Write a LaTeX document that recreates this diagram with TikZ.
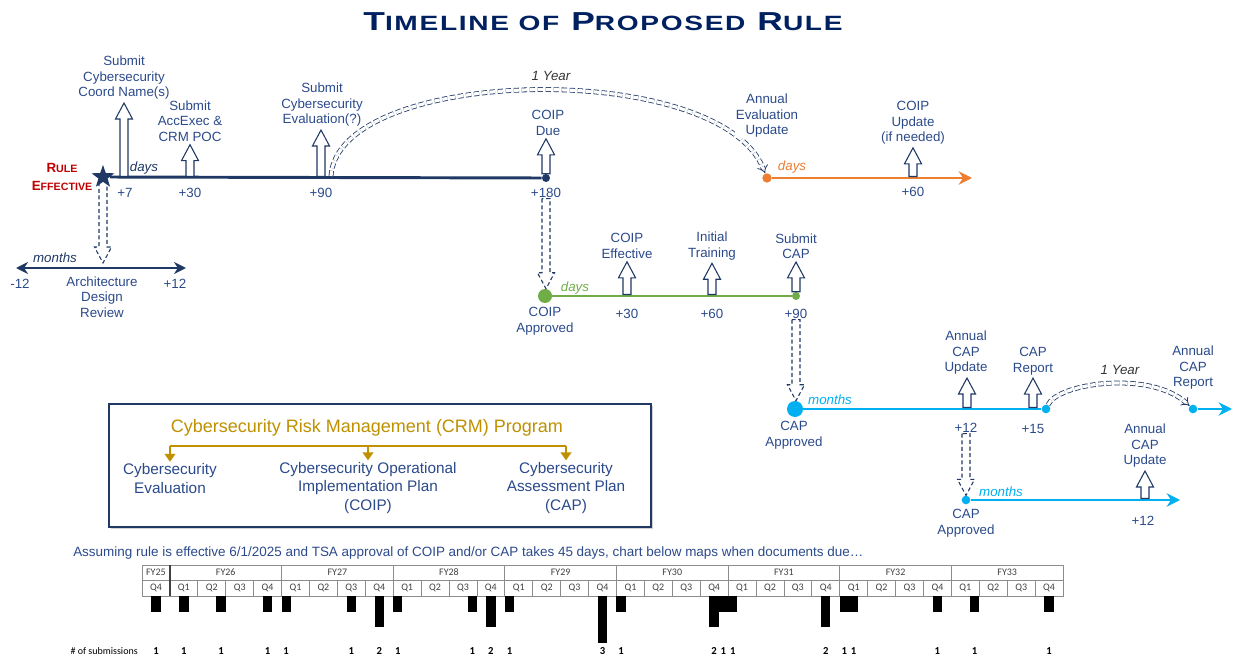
\documentclass[tikz,border=0pt]{standalone}
\usepackage{graphicx}
\usepackage{fontspec}
\setmainfont{Liberation Sans}
\newfontfamily\titlefont[LetterSpace=6]{Liberation Sans}
\newfontfamily\chartfont{Carlito}
\usetikzlibrary{arrows.meta,shapes.geometric,shadows,calc}

\definecolor{navy}{HTML}{1F3864}
\definecolor{titlenavy}{HTML}{002060}
\definecolor{labelnavy}{HTML}{2B4A8B}
\definecolor{rulered}{HTML}{C00000}
\definecolor{orng}{HTML}{ED7D31}
\definecolor{grn}{HTML}{70AD47}
\definecolor{cyn}{HTML}{00B0F0}
\definecolor{gold}{HTML}{BF9000}
\definecolor{gridgray}{HTML}{8C8C8C}
\definecolor{chartgray}{HTML}{404040}

\newcommand\titlecap[1]{{\fontsize{15.5}{18}\selectfont #1}}
\newcommand\rulecap[1]{{\fontsize{8}{9}\selectfont #1}}

\tikzset{
  lbl/.style={font=\fontsize{10}{11.6}\selectfont, text=labelnavy, align=center, inner sep=0.5pt, outer sep=2pt},
  val/.style={font=\fontsize{10}{11.6}\selectfont, text=labelnavy, inner sep=0.5pt},
  unit/.style={font=\fontsize{10}{11.6}\selectfont\itshape, inner sep=0.5pt},
  yearlbl/.style={font=\fontsize{10}{11.6}\selectfont\itshape, text=black!80, inner sep=0.5pt},
  tl/.style={line width=2.2pt},
  dot/.style={circle, inner sep=0pt, minimum size=#1},
  % hollow block arrow from start up (or down) to target
  blockup/.style={draw=navy, line width=0.8pt, fill=white, line join=miter,
    to path={let \p1=(\tikztostart), \p2=(\tikztotarget),
      \n1={ifthenelse(\y2>\y1,1,-1)} in
      ({\x1-3pt},\y1) -- ({\x1-3pt},{\y2-\n1*12pt}) -- ({\x1-6.4pt},{\y2-\n1*12pt})
      -- (\x1,\y2) -- ({\x1+6.4pt},{\y2-\n1*12pt}) -- ({\x1+3pt},{\y2-\n1*12pt})
      -- ({\x1+3pt},\y1) -- cycle}},
  dashblock/.style={blockup, dash pattern=on 3pt off 2pt, fill=none},
  yeararc/.style={draw=navy, dash pattern=on 4pt off 2pt, double, double distance=2.4pt, line width=0.6pt, -{Implies}},
  item/.style={font=\fontsize{11.5}{14.2}\selectfont, text=labelnavy, align=center, inner sep=1pt},
  goldarr/.style={gold, line width=2.2pt, -{Triangle[length=6pt,width=8pt]}},
  cell/.style={font=\chartfont\fontsize{7.5}{8}\selectfont, text=chartgray, inner sep=0pt},
  count/.style={font=\chartfont\bfseries\fontsize{8}{9}\selectfont, inner sep=0pt},
}

\begin{document}
\begin{tikzpicture}[x=0.75pt, y=-0.75pt]
\useasboundingbox (0,0) rectangle (1236,660);

%title
\node[font=\titlefont\bfseries\fontsize{19.5}{24}\selectfont, text=titlenavy] (title) at (603,22)
  {\scalebox{1.36}[1]{T\titlecap{IMELINE OF} P\titlecap{ROPOSED} R\titlecap{ULE}}};

%main timeline (days)
\node[star, star points=5, star point ratio=2.5, fill=navy, inner sep=0pt, minimum size=18pt] (eff) at (103,177) {};
\node[font=\bfseries\fontsize{10}{13.5}\selectfont, text=rulered, align=center, inner sep=0pt] (efflbl) at (62,177)
  {R\rulecap{ULE}\\E\rulecap{FFECTIVE}};
\node[dot=6pt, fill=navy] (t180) at (546,178) {};
\draw[tl, navy] (eff) -- (t180);
\node[unit, text=navy] (udays) at (144,168) {days};

\coordinate (d7) at (124,176.5);
\coordinate (d30) at (190,176.5);
\coordinate (d90) at (321,176.5);
\node[val] (v7) at (125,193) {+7};
\node[val] (v30) at (190,193) {+30};
\node[val] (v90) at (321,193) {+90};
\node[val] (v180) at (546,193) {+180};

\node[lbl] (l7) at (124,78) {Submit\\Cybersecurity\\Coord Name(s)};
\node[lbl] (l30) at (190,121) {Submit\\AccExec \&\\CRM POC};
\node[lbl] (l90) at (322,105) {Submit\\Cybersecurity\\Evaluation(?)};
\node[lbl] (l180) at (548,123) {COIP\\Due};
\draw[blockup] (d7) to (l7.south);
\draw[blockup] (d30) to (l30.south);
\draw[blockup] (d90) to (l90.south);
\draw[blockup] (t180.north) to (l180.south);

%architecture design review (months)
\coordinate (mL) at (16,268);
\coordinate (mR) at (186,268);
\coordinate (m0) at (103,263);
\draw[tl, navy, {Stealth[length=9pt,width=9pt]}-{Stealth[length=9pt,width=9pt]}] (mL) -- (mR);
\node[unit, text=navy] (umonths) at (55,258) {months};
\node[val] (vm12) at (20,284) {-12};
\node[val] (vp12) at (175,284) {+12};
\node[lbl] (adr) at (102,297) {Architecture\\Design\\Review};
\draw[dashblock] (eff.south) to (m0);

%annual evaluation update (orange)
\node[dot=7pt, fill=orng] (o0) at (767,178) {};
\coordinate (oend) at (972,178);
\coordinate (o60) at (913,176.5);
\draw[tl, orng, -{Stealth[length=10pt,width=10pt]}] (o0) -- (oend);
\node[unit, text=orng] (odays) at (792,167) {days};
\node[val] (vo60) at (913,192) {+60};
\node[lbl] (lo60) at (913,123) {COIP\\Update\\(if needed)};
\draw[blockup] (o60) to (lo60.south);
\coordinate (arcA) at (331,176);
\draw[yeararc] (arcA) .. controls (338,66) and (720,58) .. (o0);
\node[lbl, fill=white] (laeu) at (767,116) {Annual\\Evaluation\\Update};
\node[yearlbl] (year1) at (551,76) {1 Year};

%COIP approved (green)
\node[dot=10.5pt, fill=grn] (g0) at (545,296) {};
\node[dot=6pt, fill=grn] (g90) at (796,296) {};
\draw[tl, grn] (g0) -- (g90);
\coordinate (g30) at (627,294.5);
\coordinate (g60) at (712,294.5);
\node[unit, text=grn] (gdays) at (575,288) {days};
\node[lbl] (coipapp) at (545,321) {COIP\\Approved};
\node[val] (vg30) at (627,314) {+30};
\node[val] (vg60) at (712,314) {+60};
\node[val] (vg90) at (796,314) {+90};
\node[lbl] (lg30) at (627,246) {COIP\\Effective};
\node[lbl] (lg60) at (712,246) {Initial\\Training};
\node[lbl] (lg90) at (796,246) {Submit\\CAP};
\draw[blockup] (g30) to (lg30.south);
\draw[blockup] (g60) to (lg60.south);
\draw[blockup] (g90.north) to (lg90.south);
\draw[dashblock] (v180.south) to (g0.north);

%CAP approved (cyan)
\node[dot=12pt, fill=cyn] (c0) at (795,409) {};
\node[dot=6.5pt, fill=cyn] (c15) at (1046,409) {};
\draw[tl, cyn] (c0) -- (c15);
\coordinate (c12) at (967,407.5);
\coordinate (c15a) at (1033,407.5);
\node[unit, text=cyn] (cmonths) at (830,400) {months};
\node[lbl] (capapp) at (794,435) {CAP\\Approved};
\node[val] (vc12) at (966,428) {+12};
\node[val] (vc15) at (1033,429) {+15};
\node[lbl] (lc12) at (966,353) {Annual\\CAP\\Update};
\node[lbl] (lc15) at (1033,361) {CAP\\Report};
\draw[blockup] (c12) to (lc12.south);
\draw[blockup] (c15a) to (lc15.south);
\draw[dashblock] (vg90.south) to (c0.north);

\node[dot=6.5pt, fill=cyn] (c1y) at (1193,409) {};
\coordinate (cend) at (1232,409);
\draw[tl, cyn, -{Stealth[length=10pt,width=10pt]}] (c1y) -- (cend);
\draw[yeararc] (c15) .. controls (1058,383) and (1150,370) .. (c1y);
\node[lbl, fill=white] (lcar) at (1193,368) {Annual\\CAP\\Report};
\node[yearlbl] (year2) at (1120,370) {1 Year};

\node[dot=6.5pt, fill=cyn] (k0) at (966,500) {};
\coordinate (kend) at (1180,500);
\coordinate (k12) at (1145,498.5);
\draw[tl, cyn, -{Stealth[length=10pt,width=10pt]}] (k0) -- (kend);
\node[unit, text=cyn] (kmonths) at (1001,492) {months};
\node[lbl] (capapp2) at (966,523) {CAP\\Approved};
\node[val] (vk12) at (1143,521) {+12};
\node[lbl] (lk12) at (1145,446) {Annual\\CAP\\Update};
\draw[blockup] (k12) to (lk12.south);
\draw[dashblock] (vc12.south) to (k0.north);

%CRM program box
\node[draw=navy, line width=1.6pt, fill=white, minimum width=406pt, minimum height=92pt, inner sep=0pt,
  drop shadow={shadow xshift=1.5pt, shadow yshift=-1.5pt, opacity=0.35}] (crm) at (380,465.5) {};
\node[font=\fontsize{13.5}{16}\selectfont, text=gold, inner sep=0pt] (crmt) at (367,428)
  {Cybersecurity Risk Management (CRM) Program};
\node[item] (ev) at (170,478.5) {Cybersecurity\\Evaluation};
\node[item] (coip) at (368,488) {Cybersecurity Operational\\Implementation Plan\\(COIP)};
\node[item] (cap) at (566,488) {Cybersecurity\\Assessment Plan\\(CAP)};
\coordinate (brL) at (170,446);
\coordinate (brM) at (368,446);
\coordinate (brR) at (566,446);
\draw[gold, line width=2.2pt] (brL) -- (brR);
\draw[goldarr] (brL) -- (ev.north);
\draw[goldarr] (brM) -- (coip.north);
\draw[goldarr] (brR) -- (cap.north);

%submissions chart
\node[font=\fontsize{10.1}{12}\selectfont, text=labelnavy, anchor=west, inner sep=0pt] (assume) at (73,553)
  {Assuming rule is effective 6/1/2025 and TSA approval of COIP and/or CAP takes 45 days, chart below maps when documents due\dots};
\def\qw{27.91}
\def\mw{9.303}
\draw[gridgray, line width=0.6pt] (142,565) rectangle (1063,596);
\draw[gridgray, line width=0.6pt] (142,580) -- (1063,580);
\foreach \i in {1,...,32}
  \draw[gridgray, line width=0.6pt] ({142+\i*\qw},580) -- ({142+\i*\qw},596);
\foreach \i in {5,9,...,29}
  \draw[gridgray, line width=0.6pt] ({142+\i*\qw},565) -- ({142+\i*\qw},580);
\draw[chartgray, line width=1pt] ({142+\qw},565) -- ({142+\qw},596);
\node[cell] (fy25) at ({142+0.5*\qw},572.5) {FY25};
\foreach \k [evaluate=\k as \yr using {int(26+\k)}] in {0,...,7}
  \node[cell] (fy\k) at ({142+(3+4*\k)*\qw},572.5) {FY\yr};
\foreach \i [evaluate=\i as \q using {int(mod(\i+3,4)+1)}] in {0,...,32}
  \node[cell] (q\i) at ({142+(\i+0.5)*\qw},588) {Q\q};
\node[font=\chartfont\fontsize{7.5}{9}\selectfont, anchor=east, inner sep=0pt] (nsub) at (138,651) {\# of submissions};
\foreach \m/\n in {1/1,4/1,8/1,13/1,15/1,22/1,25/2,27/1,35/1,37/2,39/1,49/3,51/1,
    61/2,62/1,63/1,73/2,75/1,76/1,85/1,89/1,97/1}{
  \fill ({142+\m*\mw},596) rectangle ++(\mw,{15.6*\n});
  \node[count] (n\m) at ({142+(\m+0.5)*\mw},651) {\n};
}
\end{tikzpicture}
\end{document}
